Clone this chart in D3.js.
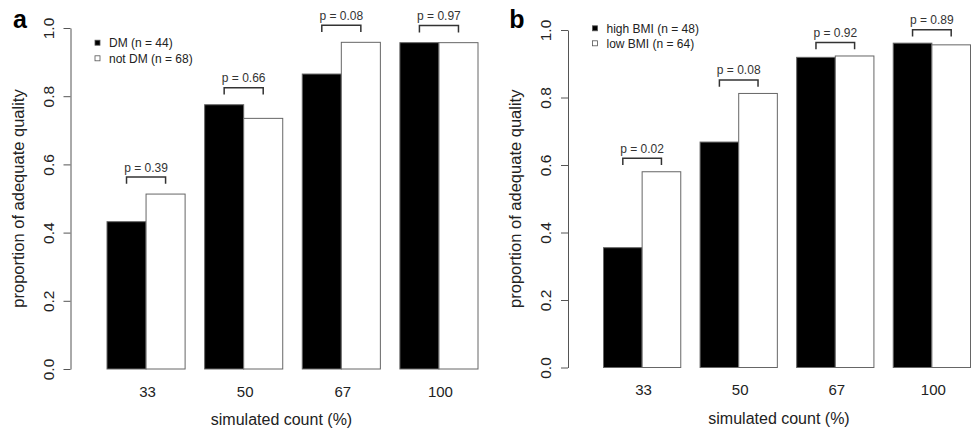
<!DOCTYPE html>
<html>
<head>
<meta charset="utf-8">
<script src="https://cdn.jsdelivr.net/npm/d3@7"></script>
<style>
  body { margin: 0; background: #fff; }
  svg { font-family: "Liberation Sans", Arial, sans-serif; }
</style>
</head>
<body>
<div id="vis"></div>
<script>
var categories = ['33', '50', '67', '100'];
var yTicks = [0, 0.2, 0.4, 0.6, 0.8, 1.0];

// panel a
var seriesA = ['DM (n = 44)', 'not DM (n = 68)'];
var dmValues = [0.432, 0.775, 0.865, 0.957];
var notDmValues = [0.513, 0.735, 0.958, 0.957];
var pValuesA = ['0.39', '0.66', '0.08', '0.97'];

// panel b
var seriesB = ['high BMI (n = 48)', 'low BMI (n = 64)'];
var highBmiValues = [0.355, 0.668, 0.919, 0.961];
var lowBmiValues = [0.580, 0.812, 0.923, 0.956];
var pValuesB = ['0.02', '0.08', '0.92', '0.89'];

var width = 973,
    height = 435;

var svg = d3.select('#vis')
  .append('svg')
    .attr('width', width)
    .attr('height', height)
    .style('background', '#fff');

var panels = [
  { tag: 'a', series: seriesA, values: [dmValues, notDmValues], p: pValuesA,
    axisX: 70.5, barStart: 107, barEnd: 478, y0: 369, y1: 28,
    tagX: 20, titleX: 24, legendY: [42.7, 58.3], brTop: 0.05, brTick: 0.03 },
  { tag: 'b', series: seriesB, values: [highBmiValues, lowBmiValues], p: pValuesB,
    axisX: 568, barStart: 603.5, barEnd: 970.5, y0: 367.5, y1: 30,
    tagX: 517, titleX: 521, legendY: [28.3, 43.3], brTop: 0.04, brTick: 0.02 }
];

panels.forEach(function(pn) {
  var g = svg.append('g');

  var yScale = d3.scaleLinear()
    .domain([0, 1])
    .range([pn.y0, pn.y1]);

  var xScale = d3.scaleBand()
    .domain(categories)
    .range([pn.barStart, pn.barEnd])
    .paddingInner(0.2)
    .paddingOuter(0);

  var xInner = d3.scaleBand()
    .domain([0, 1])
    .range([0, xScale.bandwidth()]);

  var fills = ['#000', '#fff'];

  // bars
  pn.values.forEach(function(vals, s) {
    g.selectAll('rect.s' + s)
      .data(vals)
      .enter()
      .append('rect')
        .attr('class', 's' + s)
        .attr('x', function(d, i) { return xScale(categories[i]) + xInner(s); })
        .attr('width', xInner.bandwidth())
        .attr('y', function(d) { return yScale(d); })
        .attr('height', function(d) { return yScale(0) - yScale(d); })
        .style('fill', fills[s])
        .style('stroke', '#666')
        .style('stroke-width', 1);
  });

  // y axis
  var yAxis = d3.axisLeft(yScale)
    .tickValues(yTicks)
    .tickFormat(d3.format('.1f'))
    .tickSize(7)
    .tickSizeOuter(0);

  var ax = g.append('g')
    .attr('transform', 'translate(' + pn.axisX + ',0)')
    .call(yAxis);
  ax.select('.domain').attr('stroke', '#555');
  ax.selectAll('.tick line').attr('stroke', '#555');
  ax.selectAll('.tick text')
    .attr('x', 0)
    .attr('y', 0)
    .attr('dy', 0)
    .attr('transform', 'translate(-17,0) rotate(-90)')
    .attr('text-anchor', 'middle')
    .style('font-size', '15.5px')
    .style('fill', '#222');

  // x category labels
  g.selectAll('text.cat')
    .data(categories)
    .enter()
    .append('text')
      .attr('class', 'cat')
      .attr('x', function(d) { return xScale(d) + xScale.bandwidth() / 2 + 1.5; })
      .attr('y', pn.y0 + 27.5)
      .attr('text-anchor', 'middle')
      .style('font-size', '15px')
      .style('fill', '#222')
      .text(function(d) { return d; });

  // axis titles
  g.append('text')
    .attr('x', pn.axisX + 211)
    .attr('y', pn.y0 + 56)
    .attr('text-anchor', 'middle')
    .style('font-size', '16px')
    .style('fill', '#222')
    .text('simulated count (%)');

  g.append('text')
    .attr('transform', 'translate(' + pn.titleX + ',' + (pn.y0 + pn.y1) / 2 + ') rotate(-90)')
    .attr('text-anchor', 'middle')
    .style('font-size', '16.5px')
    .style('fill', '#222')
    .text('proportion of adequate quality');

  // panel tag
  g.append('text')
    .attr('x', pn.tagX)
    .attr('y', 28)
    .attr('text-anchor', 'middle')
    .style('font-size', '25px')
    .style('font-weight', 'bold')
    .text(pn.tag);

  // p-value brackets
  categories.forEach(function(c, i) {
    var top = Math.max(pn.values[0][i], pn.values[1][i]);
    var xl = xScale(c) + xInner(0) + xInner.bandwidth() / 2;
    var xr = xScale(c) + xInner(1) + xInner.bandwidth() / 2;
    var yb = yScale(top + pn.brTop);
    var yt = yScale(top + pn.brTick);
    g.append('path')
      .attr('d', 'M' + xl + ',' + yt + 'V' + yb + 'H' + xr + 'V' + yt)
      .style('fill', 'none')
      .style('stroke', '#333')
      .style('stroke-width', 1.5);
    g.append('text')
      .attr('x', (xl + xr) / 2)
      .attr('y', yb - 5.5)
      .attr('text-anchor', 'middle')
      .style('font-size', '12px')
      .style('fill', '#333')
      .text('p = ' + pn.p[i]);
  });

  // legend
  var leg = g.selectAll('g.leg')
    .data(pn.series)
    .enter()
    .append('g')
      .attr('class', 'leg')
      .attr('transform', function(d, i) {
        return 'translate(' + (pn.axisX + 27) + ',' + pn.legendY[i] + ')';
      });
  leg.append('rect')
    .attr('x', -2.5)
    .attr('y', -2.5)
    .attr('width', 5)
    .attr('height', 5)
    .style('fill', function(d, i) { return fills[i]; })
    .style('stroke', '#555')
    .style('stroke-width', 0.8);
  leg.append('text')
    .attr('x', 11.5)
    .attr('y', 4.3)
    .style('font-size', '12px')
    .style('fill', '#222')
    .text(function(d) { return d; });
});
</script>
</body>
</html>
